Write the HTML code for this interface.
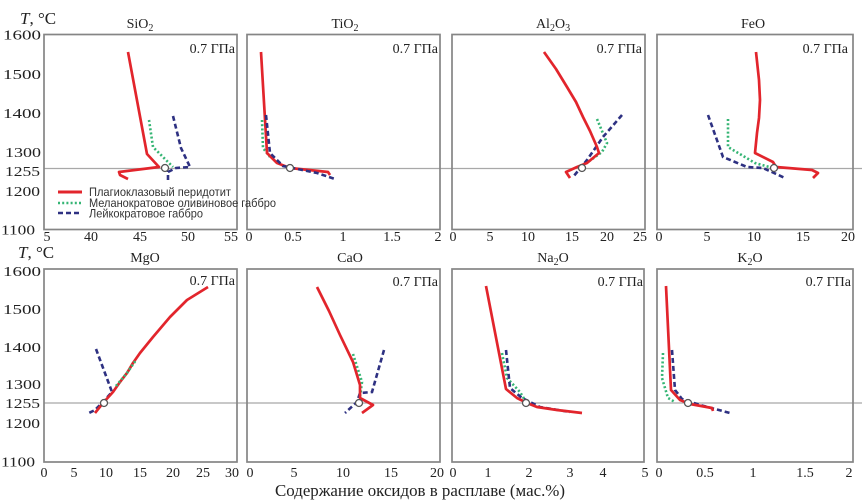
<!DOCTYPE html>
<html><head><meta charset="utf-8"><style>
html,body{margin:0;padding:0;background:#fff;}
svg{display:block;}
.ax{fill:none;stroke:#858585;stroke-width:1.7;}
.tk{font-family:"Liberation Serif",serif;font-size:14px;fill:#222;}
.yl{font-family:"Liberation Serif",serif;font-size:14px;fill:#222;text-anchor:end;}
.tt{font-family:"Liberation Serif",serif;font-size:14px;fill:#222;text-anchor:middle;}
.gp{font-family:"Liberation Serif","Noto Serif CJK SC",serif;font-size:14px;fill:#222;text-anchor:end;}
.r{fill:none;stroke:#e2252c;stroke-width:2.7;stroke-linejoin:round;}
.g{fill:none;stroke:#35b574;stroke-width:2.6;stroke-dasharray:2 2.2;}
.b{fill:none;stroke:#2e3182;stroke-width:2.6;stroke-dasharray:5 3;}
.c{fill:#fff;stroke:#555;stroke-width:1.3;}
.hl{stroke:#a8a8a8;stroke-width:1.3;}
.lg{font-family:"Liberation Sans",sans-serif;font-size:12px;fill:#333;}
</style></head><body>
<svg width="862" height="500" viewBox="0 0 862 500" xmlns="http://www.w3.org/2000/svg">
<!-- horizontal 1255 lines -->
<line class="hl" x1="44" y1="168.5" x2="862" y2="168.5"/>
<line class="hl" x1="44" y1="403" x2="862" y2="403"/>

<!-- frames -->
<rect class="ax" x="44" y="34.5" width="193" height="195"/>
<rect class="ax" x="247" y="34.5" width="193" height="195"/>
<rect class="ax" x="452" y="34.5" width="193" height="195"/>
<rect class="ax" x="657" y="34.5" width="196" height="195"/>
<rect class="ax" x="44" y="269" width="193" height="193"/>
<rect class="ax" x="247" y="269" width="193" height="193"/>
<rect class="ax" x="452" y="269" width="192" height="193"/>
<rect class="ax" x="657" y="269" width="196" height="193"/>

<!-- T labels -->
<text x="20" y="24" style="font-family:'Liberation Serif',serif;font-size:17px;fill:#222"><tspan font-style="italic">T</tspan>, °C</text>
<text x="18" y="258" style="font-family:'Liberation Serif',serif;font-size:17px;fill:#222"><tspan font-style="italic">T</tspan>, °C</text>

<!-- Y labels -->
<g class="yl">
<text x="41" y="39.5" textLength="38" lengthAdjust="spacingAndGlyphs">1600</text>
<text x="41" y="79" textLength="38" lengthAdjust="spacingAndGlyphs">1500</text>
<text x="41" y="118" textLength="38" lengthAdjust="spacingAndGlyphs">1400</text>
<text x="41" y="157" textLength="36" lengthAdjust="spacingAndGlyphs">1300</text>
<text x="40" y="176" textLength="35" lengthAdjust="spacingAndGlyphs">1255</text>
<text x="40" y="196" textLength="35" lengthAdjust="spacingAndGlyphs">1200</text>
<text x="35" y="234.5" textLength="34" lengthAdjust="spacingAndGlyphs">1100</text>
<text x="41" y="276" textLength="38" lengthAdjust="spacingAndGlyphs">1600</text>
<text x="41" y="314" textLength="38" lengthAdjust="spacingAndGlyphs">1500</text>
<text x="41" y="352" textLength="38" lengthAdjust="spacingAndGlyphs">1400</text>
<text x="41" y="389" textLength="36" lengthAdjust="spacingAndGlyphs">1300</text>
<text x="40" y="408" textLength="35" lengthAdjust="spacingAndGlyphs">1255</text>
<text x="40" y="428" textLength="35" lengthAdjust="spacingAndGlyphs">1200</text>
<text x="35" y="466.5" textLength="34" lengthAdjust="spacingAndGlyphs">1100</text>
</g>

<!-- X labels -->
<g class="tk" text-anchor="middle">
<text x="47" y="241">5</text><text x="91" y="241">40</text><text x="140" y="241">45</text><text x="188" y="241">50</text><text x="231" y="241">55</text>
<text x="249" y="241">0</text><text x="293" y="241">0.5</text><text x="343" y="241">1</text><text x="392" y="241">1.5</text><text x="438" y="241">2</text>
<text x="453" y="241">0</text><text x="490" y="241">5</text><text x="528" y="241">10</text><text x="572" y="241">15</text><text x="607" y="241">20</text><text x="640" y="241">25</text>
<text x="659" y="241">0</text><text x="707" y="241">5</text><text x="754" y="241">10</text><text x="803" y="241">15</text><text x="848" y="241">20</text>
<text x="44" y="477">0</text><text x="74" y="477">5</text><text x="106" y="477">10</text><text x="140" y="477">15</text><text x="173" y="477">20</text><text x="203" y="477">25</text><text x="232" y="477">30</text>
<text x="250" y="477">0</text><text x="294" y="477">5</text><text x="343" y="477">10</text><text x="391" y="477">15</text><text x="437" y="477">20</text>
<text x="453" y="477">0</text><text x="488" y="477">1</text><text x="529" y="477">2</text><text x="570" y="477">3</text><text x="603" y="477">4</text><text x="645" y="477">5</text>
<text x="659" y="477">0</text><text x="705" y="477">0.5</text><text x="753" y="477">1</text><text x="805" y="477">1.5</text><text x="849" y="477">2</text>
</g>

<!-- titles -->
<g class="tt">
<text x="140" y="28">SiO<tspan font-size="10" dy="3">2</tspan></text>
<text x="345" y="28">TiO<tspan font-size="10" dy="3">2</tspan></text>
<text x="553" y="28">Al<tspan font-size="10" dy="3">2</tspan><tspan dy="-3">O</tspan><tspan font-size="10" dy="3">3</tspan></text>
<text x="753" y="28">FeO</text>
<text x="145" y="262">MgO</text>
<text x="350" y="262">CaO</text>
<text x="553" y="262">Na<tspan font-size="10" dy="3">2</tspan><tspan dy="-3">O</tspan></text>
<text x="750" y="262">K<tspan font-size="10" dy="3">2</tspan><tspan dy="-3">O</tspan></text>
</g>

<!-- pressure -->
<g class="gp">
<text x="235" y="53">0.7 ГПа</text>
<text x="438" y="53">0.7 ГПа</text>
<text x="642" y="53">0.7 ГПа</text>
<text x="848" y="53">0.7 ГПа</text>
<text x="235" y="285">0.7 ГПа</text>
<text x="438" y="286">0.7 ГПа</text>
<text x="643" y="286">0.7 ГПа</text>
<text x="851" y="286">0.7 ГПа</text>
</g>

<!-- P1 SiO2 -->
<polyline class="g" points="149,120 153,147 173,167"/>
<polyline class="b" points="173,116 181,148 190,167 176,168 168,172 168,180"/>
<polyline class="r" points="128,52 147,154 159,167 119,172 120,175 128,179"/>
<circle class="c" cx="165" cy="168" r="3.5"/>

<!-- P2 TiO2 -->
<polyline class="g" points="262,120 263,148 270,157"/>
<polyline class="r" points="261,52 267,153 277,163 290,168 328,172 330,175"/>
<polyline class="b" points="266,115 270,153 283,166 317,173 335,179"/>
<circle class="c" cx="290" cy="168" r="3.5"/>

<!-- P3 Al2O3 -->
<polyline class="g" points="597,119 607,143 602,152 588,162"/>
<polyline class="b" points="622,115 603,137 587,160 573,177"/>
<polyline class="r" points="544,52 556,69 567,87 576,102 583,117 590,131 597,147 599,153 587,163 577,167 566,172 570,178"/>
<circle class="c" cx="582" cy="168" r="3.5"/>

<!-- P4 FeO -->
<polyline class="g" points="728,119 728,147 755,163 773,168"/>
<polyline class="b" points="708,115 723,157 747,167 763,168 785,178"/>
<polyline class="r" points="756,52 759,80 760,100 759,118 757,133 755,153 773,162 776,167 812,170 818,173 813,178"/>
<circle class="c" cx="774" cy="168" r="3.5"/>

<!-- P5 MgO -->
<polyline class="b" points="96,349 112,392 103,402 95,410 89,413"/>
<polyline class="r" points="95,413 103,403 113,392 120,382 127,373 133,363 140,353 153,337 170,317 187,300 208,287"/>
<polyline class="g" points="116,386 127,373 136,360"/>
<circle class="c" cx="104" cy="403" r="3.5"/>

<!-- P6 CaO -->
<polyline class="g" points="353,354 362,382 360,397"/>
<polyline class="b" points="384,350 372,392 360,393 357,402 345,413"/>
<polyline class="r" points="317,287 329,311 340,335 353,362 360,385 360,398 373,405 362,413"/>
<circle class="c" cx="359" cy="403" r="3.5"/>

<!-- P7 Na2O -->
<polyline class="g" points="502,353 507,378 520,392 526,402"/>
<polyline class="b" points="506,350 510,388 522,398 540,407 570,412"/>
<polyline class="r" points="486,286 506,389 517,398 527,403 537,407 557,410 582,413"/>
<circle class="c" cx="526" cy="403" r="3.5"/>

<!-- P8 K2O -->
<polyline class="g" points="663,353 662,378 668,398 675,402"/>
<polyline class="b" points="672,350 675,390 682,399 700,405 730,413"/>
<polyline class="r" points="666,286 671,390 680,400 690,404 712,408 713,411"/>
<circle class="c" cx="688" cy="403" r="3.5"/>

<!-- legend -->
<line class="r" x1="58" y1="192" x2="82" y2="192" style="stroke-width:3"/>
<line class="g" x1="58" y1="203" x2="82" y2="203"/>
<line class="b" x1="58" y1="213" x2="82" y2="213"/>
<text class="lg" x="89" y="196" textLength="142" lengthAdjust="spacingAndGlyphs">Плагиоклазовый перидотит</text>
<text class="lg" x="89" y="207" textLength="187" lengthAdjust="spacingAndGlyphs">Меланократовое оливиновое габбро</text>
<text class="lg" x="89" y="217.5" textLength="114" lengthAdjust="spacingAndGlyphs">Лейкократовое габбро</text>

<!-- x axis title -->
<text x="275" y="496" textLength="290" lengthAdjust="spacingAndGlyphs" style="font-family:'Liberation Serif',serif;font-size:17px;fill:#222">Содержание оксидов в расплаве (мас.%)</text>
</svg>
</body></html>
